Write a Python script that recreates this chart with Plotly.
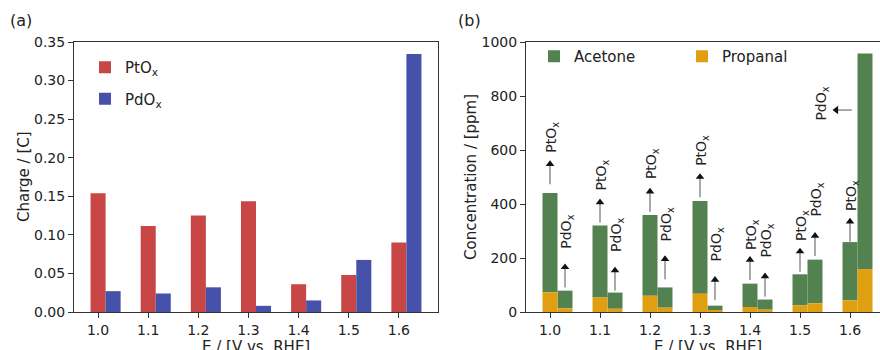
import plotly.graph_objects as go

# ---------------- data ----------------
E = [1.0, 1.1, 1.2, 1.3, 1.4, 1.5, 1.6]

charge_pt = [0.154, 0.1115, 0.125, 0.1435, 0.036, 0.048, 0.090]
charge_pd = [0.027, 0.024, 0.032, 0.008, 0.015, 0.0675, 0.3345]

propanal_pt = [73, 54, 60, 68, 18.5, 24.7, 43]
acetone_pt = [368, 266, 299, 343, 86.5, 115, 216]
propanal_pd = [13.6, 12, 16, 6, 8.6, 32, 159]
acetone_pd = [65.5, 60, 75, 17.5, 37.5, 162, 798]

# annotation anchors (ppm)
arrow_tail_pt = [473, 331, 371, 425, 118, 149, 260]
arrow_tail_pd = [91, 79, 121, 44, 57, 207]
label_base_pt = [581, 441, 483, 532, 220, 254, 365]
label_base_pd = [227, 215, 254, 180, 194, 346]
pd16_arrow_y = 748
pd16_label_y = 770

# ---------------- styles ----------------
FONT = "DejaVu Sans"
RED = "#C94646"
BLUE = "#4651A9"
GREEN = "#548150"
ORANGE = "#E09F10"
AX = "#333333"
TXT = "#222222"
W = 880
H = 350
BW = 0.03
ARROW_LEN = 89          # ppm
PPM_PER_PX = 1000 / 270
HEAD = 7.5              # marker size of arrow heads (px)
XR1 = [0.952, 1.678]
XR2 = [0.952, 1.66]     # right end clipped by the figure edge

fig = go.Figure()

# panel (a)
fig.add_trace(go.Bar(x=E, y=charge_pt, width=BW, offset=-BW / 2, name="PtO<sub>x</sub>",
                     marker=dict(color=RED, line=dict(width=0)), xaxis="x", yaxis="y",
                     legend="legend", legendgroup="a1"))
fig.add_trace(go.Bar(x=E, y=charge_pd, width=BW, offset=BW / 2, name="PdO<sub>x</sub>",
                     marker=dict(color=BLUE, line=dict(width=0)), xaxis="x", yaxis="y",
                     legend="legend", legendgroup="a2"))

# panel (b)
fig.add_trace(go.Bar(x=E, y=acetone_pt, base=propanal_pt, width=BW, offset=-BW / 2, name="Acetone",
                     marker=dict(color=GREEN, line=dict(width=0)), xaxis="x2", yaxis="y2",
                     legend="legend2", legendgroup="ac"))
fig.add_trace(go.Bar(x=E, y=acetone_pd, base=propanal_pd, width=BW, offset=BW / 2, name="Acetone",
                     marker=dict(color=GREEN, line=dict(width=0)), xaxis="x2", yaxis="y2",
                     legend="legend2", legendgroup="ac", showlegend=False))
fig.add_trace(go.Bar(x=E, y=propanal_pt, width=BW, offset=-BW / 2, name="Propanal",
                     marker=dict(color=ORANGE, line=dict(width=0)), xaxis="x2", yaxis="y2",
                     legend="legend2", legendgroup="pr"))
fig.add_trace(go.Bar(x=E, y=propanal_pd, width=BW, offset=BW / 2, name="Propanal",
                     marker=dict(color=ORANGE, line=dict(width=0)), xaxis="x2", yaxis="y2",
                     legend="legend2", legendgroup="pr", showlegend=False))

# arrows: shafts + heads as scatter traces
shaft_x, shaft_y = [], []
head_x, head_y, head_sym = [], [], []
annotations = []


def label(x, y, txt, yanchor="bottom", xshift=2):
    annotations.append(dict(x=x, y=y, xref="x2", yref="y2", text=txt, showarrow=False,
                            textangle=-90, xanchor="center", yanchor=yanchor, xshift=xshift,
                            font=dict(family=FONT, size=14, color=TXT)))


head_r = HEAD / 2
for i, e in enumerate(E):
    tails = [(e, arrow_tail_pt[i], label_base_pt[i], "PtO<sub>x</sub>")]
    if i < len(arrow_tail_pd):
        tails.append((e + BW, arrow_tail_pd[i], label_base_pd[i], "PdO<sub>x</sub>"))
    for xx, t, lb, txt in tails:
        tip = t + ARROW_LEN
        shaft_x += [xx, xx, None]
        shaft_y += [t, tip - 4 * PPM_PER_PX, None]
        head_x.append(xx)
        head_y.append(tip - head_r * PPM_PER_PX)
        head_sym.append("triangle-up")
        label(xx, lb, txt)

# horizontal arrow at 1.6 PdOx
px_per_x = 500
tail_x = E[-1] + 0.0035
tip_x = E[-1] - 0.035
shaft_x += [tail_x, tip_x + 4 / px_per_x, None]
shaft_y += [pd16_arrow_y, pd16_arrow_y, None]
head_x.append(tip_x + head_r / px_per_x)
head_y.append(pd16_arrow_y)
head_sym.append("triangle-left")
label(E[-1] - 0.059, pd16_label_y, "PdO<sub>x</sub>", yanchor="middle")

fig.add_trace(go.Scatter(x=shaft_x, y=shaft_y, mode="lines", line=dict(color="#555555", width=1),
                         xaxis="x2", yaxis="y2", showlegend=False, hoverinfo="skip"))
fig.add_trace(go.Scatter(x=head_x, y=head_y, mode="markers",
                         marker=dict(symbol=head_sym, size=HEAD, color="#111111", line=dict(width=0)),
                         xaxis="x2", yaxis="y2", showlegend=False, hoverinfo="skip"))

# panel labels
annotations.append(dict(x=8 / W, y=1 - 20 / H, xref="paper", yref="paper", text="(a)",
                        showarrow=False, xanchor="left", yanchor="middle",
                        font=dict(family=FONT, size=16, color=TXT)))
annotations.append(dict(x=456 / W, y=1 - 20 / H, xref="paper", yref="paper", text="(b)",
                        showarrow=False, xanchor="left", yanchor="middle",
                        font=dict(family=FONT, size=16, color=TXT)))

# axis titles (placed as annotations so they sit exactly like the reference)
ymid = 1 - 177 / H
annotations.append(dict(x=sum(XR1) / 2, y=1 - 336 / H, xref="x", yref="paper",
                        text="E / [V vs. RHE]", showarrow=False, xanchor="center", yanchor="top",
                        font=dict(family=FONT, size=15, color=TXT)))
annotations.append(dict(x=(0.952 + 1.678) / 2, y=1 - 336 / H, xref="x2", yref="paper",
                        text="E / [V vs. RHE]", showarrow=False, xanchor="center", yanchor="top",
                        font=dict(family=FONT, size=15, color=TXT)))
annotations.append(dict(x=24 / W, y=ymid, xref="paper", yref="paper", text="Charge / [C]",
                        showarrow=False, textangle=-90, xanchor="center", yanchor="middle",
                        font=dict(family=FONT, size=15, color=TXT)))
annotations.append(dict(x=471 / W, y=ymid, xref="paper", yref="paper",
                        text="Concentration / [ppm]", showarrow=False, textangle=-90,
                        xanchor="center", yanchor="middle",
                        font=dict(family=FONT, size=15, color=TXT)))

ydom = [1 - 312 / H, 1 - 42 / H]
common_x = dict(tickmode="array", tickvals=E, tickformat=".1f", showline=True, linecolor=AX,
                linewidth=1, ticks="outside", ticklen=5, tickcolor=AX, showgrid=False,
                zeroline=False, automargin=False, tickfont=dict(family=FONT, size=14, color=TXT))
common_y = dict(showline=True, linecolor=AX, linewidth=1, ticks="outside", ticklen=5,
                tickcolor=AX, showgrid=False, zeroline=False, automargin=False,
                tickfont=dict(family=FONT, size=14, color=TXT))

fig.update_layout(
    width=W, height=H, margin=dict(l=0, r=0, t=0, b=0),
    paper_bgcolor="white", plot_bgcolor="white", barmode="overlay",
    font=dict(family=FONT, size=14, color=TXT),
    xaxis=dict(domain=[74 / W, 438 / W], range=XR1, mirror=True, anchor="y", **common_x),
    yaxis=dict(domain=ydom, range=[0, 0.35], tickmode="linear", tick0=0, dtick=0.05,
               tickformat=".2f", mirror=True, anchor="x", **common_y),
    xaxis2=dict(domain=[526 / W, 1.0], range=XR2, mirror=True, anchor="y2", **common_x),
    yaxis2=dict(domain=ydom, range=[0, 1000], tickmode="linear", tick0=0, dtick=200,
                mirror=False, anchor="x2", **common_y),
    legend=dict(x=85 / W, y=1 - 51 / H, xanchor="left", yanchor="top", bgcolor="rgba(0,0,0,0)",
                font=dict(family=FONT, size=15, color=TXT), tracegroupgap=9,
                orientation="v"),
    legend2=dict(x=534 / W, y=1 - 40 / H, xanchor="left", yanchor="top",
                 bgcolor="rgba(0,0,0,0)", font=dict(family=FONT, size=15, color=TXT),
                 orientation="h", entrywidth=103, entrywidthmode="pixels"),
    annotations=annotations,
    showlegend=True,
)

fig.write_html("out.html", config={"displayModeBar": False},
               post_script="document.body.style.margin='0px';")
